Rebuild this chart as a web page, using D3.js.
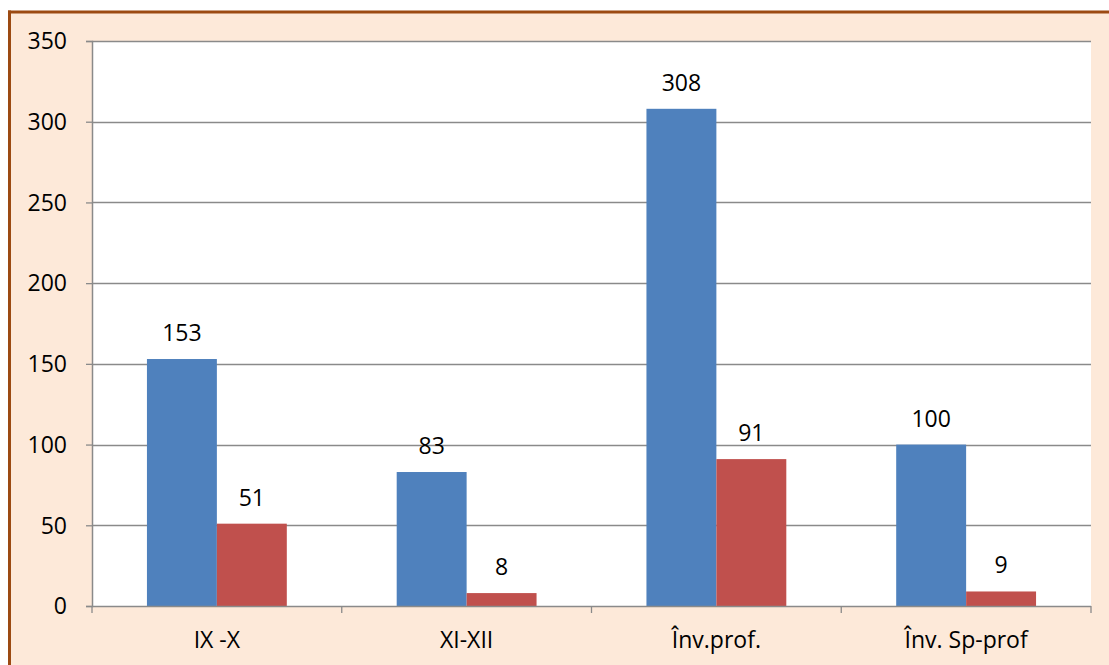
<!DOCTYPE html>
<html><head><meta charset="utf-8">
<script src="https://cdn.jsdelivr.net/npm/d3@7"></script>
<style>body{margin:0;background:#fff}svg{display:block}</style>
</head><body>
<script>
const categories = ["IX -X", "XI-XII", "Înv.prof.", "Înv. Sp-prof"];
const series1 = [153, 83, 308, 100];
const series2 = [51, 8, 91, 9];
const yTicks = [0, 50, 100, 150, 200, 250, 300, 350];

(function(){
const W = 1109, H = 665;
const svg = d3.select("body").append("svg").attr("width", W).attr("height", H);
svg.append("rect").attr("x",0).attr("y",0).attr("width",W).attr("height",H).attr("fill","#fff");
svg.append("rect").attr("x",9.5).attr("y",12).attr("width",W).attr("height",H).attr("fill","#FDE9D9");
svg.append("line").attr("x1",8).attr("x2",W).attr("y1",12).attr("y2",12).attr("stroke","#9C4A12").attr("stroke-width",3);
svg.append("line").attr("x1",9.5).attr("x2",9.5).attr("y1",10.5).attr("y2",H).attr("stroke","#9C4A12").attr("stroke-width",3);

const pL = 92, pR = 1091, pT = 41, pB = 606;
const x = d3.scaleBand().domain(categories).range([pL, pR]).paddingInner(0.44).paddingOuter(0.22);
const y = d3.scaleLinear().domain([0, 350]).range([pB, pT]);
const font = "'Open Sans', sans-serif";
const fs = 23;

svg.append("rect").attr("x",pL).attr("y",pT).attr("width",pR-pL).attr("height",pB-pT).attr("fill","#fff");

// gridlines
svg.append("g").selectAll("line").data(yTicks.filter(d=>d>0)).join("line")
  .attr("x1", pL).attr("x2", pR)
  .attr("y1", d=>Math.round(y(d))+0.5).attr("y2", d=>Math.round(y(d))+0.5)
  .attr("stroke", "#8a8a8a").attr("stroke-width", 1.3);

// bars
const sub = d3.scaleBand().domain([0,1]).range([0, x.bandwidth()]);
const colors = ["#4F81BD", "#C0504D"];
const data = categories.map((c,i)=>({c, v:[series1[i], series2[i]]}));
const g = svg.append("g");
data.forEach(d=>{
  d.v.forEach((v,k)=>{
    g.append("rect").attr("x", x(d.c)+sub(k)).attr("y", y(v))
      .attr("width", sub.bandwidth()).attr("height", y(0)-y(v)).attr("fill", colors[k]);
    g.append("text").attr("x", x(d.c)+sub(k)+sub.bandwidth()/2).attr("y", y(v)-18)
      .attr("text-anchor","middle").attr("font-family",font).attr("font-size",fs).attr("fill","#000").text(v);
  });
});

// y axis
const ya = svg.append("g").attr("transform",`translate(${pL},0)`)
  .call(d3.axisLeft(y).tickValues(yTicks).tickSize(6).tickPadding(19));
ya.select(".domain").attr("stroke","#8a8a8a").attr("stroke-width",1.5);
ya.selectAll(".tick line").attr("stroke","#8a8a8a").attr("stroke-width",1.3);
ya.selectAll("text").attr("font-family",font).attr("font-size",fs).attr("fill","#000").attr("dy","0.34em");

// x axis
const xa = svg.append("g").attr("transform",`translate(0,${pB})`);
xa.append("line").attr("x1",pL).attr("x2",pR).attr("y1",0.5).attr("y2",0.5).attr("stroke","#8a8a8a").attr("stroke-width",1.5);
const bnd = categories.map(c=>x(c)-x.step()*x.paddingInner()/2);
bnd.push(pR);
bnd[0]=pL;
xa.selectAll("line.t").data(bnd).join("line").attr("class","t")
  .attr("x1",d=>d).attr("x2",d=>d).attr("y1",0).attr("y2",7).attr("stroke","#8a8a8a").attr("stroke-width",1.3);
xa.selectAll("text").data(categories).join("text")
  .attr("x", d=>x(d)+x.bandwidth()/2).attr("y", 42).attr("text-anchor","middle")
  .attr("font-family",font).attr("font-size",fs).attr("fill","#000").text(d=>d);
})();
</script>
</body></html>
